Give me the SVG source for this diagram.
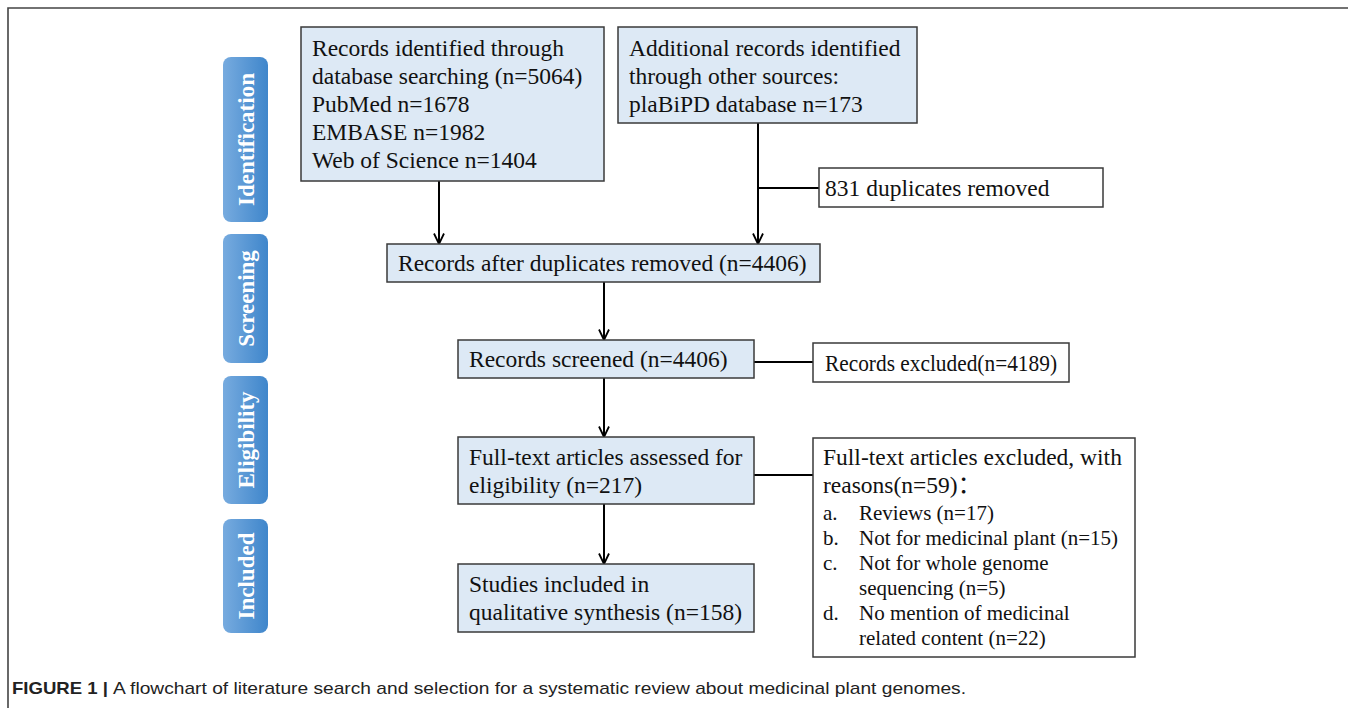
<svg xmlns="http://www.w3.org/2000/svg" width="1355" height="724" viewBox="0 0 1355 724">
<defs>
<linearGradient id="tabGrad" x1="0" y1="0" x2="1" y2="0">
<stop offset="0" stop-color="#77abdf"/>
<stop offset="1" stop-color="#3f86cb"/>
</linearGradient>
<marker id="arr" viewBox="0 0 12 12" refX="11.5" refY="6" markerWidth="12" markerHeight="12" markerUnits="userSpaceOnUse" orient="auto">
<path d="M1,1 L11.5,6 L1,11" fill="none" stroke="#000" stroke-width="1.8"/>
</marker>
</defs>
<style>
.box{fill:#dde9f5;stroke:#3a3a3a;stroke-width:1.5}
.wbox{fill:#fff;stroke:#3a3a3a;stroke-width:1.5}
.t{font-family:"Liberation Serif","Times New Roman","Noto Sans CJK SC",serif;font-size:23.5px;fill:#111}
.s{font-family:"Liberation Serif","Times New Roman","Noto Sans CJK SC",serif;font-size:21px;fill:#111}
.tab{fill:url(#tabGrad)}
.tabt{font-family:"Liberation Serif","Times New Roman",serif;font-size:23px;font-weight:bold;fill:#fff}
.c{stroke:#000;stroke-width:2;fill:none}
.cap{font-family:"Liberation Sans",Arial,sans-serif;font-size:17px;fill:#222}
</style>
<rect width="1355" height="724" fill="#fff"/>
<g id="frame">
<path d="M8,708 L8,8 L1348,8" fill="none" stroke="#444" stroke-width="1.6"/>
</g>
<g id="tab-identification">
<rect class="tab" x="223" y="57" width="45" height="165" rx="8"/>
<text class="tabt" transform="translate(253.5,139.5) rotate(-90)" text-anchor="middle">Identification</text>
</g>
<g id="tab-screening">
<rect class="tab" x="223" y="234" width="45" height="129" rx="8"/>
<text class="tabt" transform="translate(253.5,298.5) rotate(-90)" text-anchor="middle">Screening</text>
</g>
<g id="tab-eligibility">
<rect class="tab" x="223" y="376" width="45" height="128" rx="8"/>
<text class="tabt" transform="translate(253.5,440) rotate(-90)" text-anchor="middle">Eligibility</text>
</g>
<g id="tab-included">
<rect class="tab" x="223" y="519" width="45" height="114" rx="8"/>
<text class="tabt" transform="translate(253.5,576) rotate(-90)" text-anchor="middle">Included</text>
</g>
<g id="connectors">
<line class="c" x1="439" y1="181" x2="439" y2="244" marker-end="url(#arr)"/>
<line class="c" x1="758" y1="123" x2="758" y2="244" marker-end="url(#arr)"/>
<line class="c" x1="758" y1="188" x2="819" y2="188"/>
<line class="c" x1="604" y1="282" x2="604" y2="340" marker-end="url(#arr)"/>
<line class="c" x1="754" y1="362" x2="813" y2="362"/>
<line class="c" x1="604" y1="378" x2="604" y2="437" marker-end="url(#arr)"/>
<line class="c" x1="754" y1="475" x2="813" y2="475"/>
<line class="c" x1="604" y1="504" x2="604" y2="564" marker-end="url(#arr)"/>
</g>
<g id="n-database">
<rect class="box" x="301" y="27" width="303" height="154"/>
<text class="t" x="312" y="56">Records identified through</text>
<text class="t" x="312" y="84">database searching (n=5064)</text>
<text class="t" x="312" y="112">PubMed n=1678</text>
<text class="t" x="312" y="140">EMBASE n=1982</text>
<text class="t" x="312" y="168">Web of Science n=1404</text>
</g>
<g id="n-additional">
<rect class="box" x="618" y="27" width="299" height="96"/>
<text class="t" x="629" y="56">Additional records identified</text>
<text class="t" x="629" y="84">through other sources:</text>
<text class="t" x="629" y="112">plaBiPD database n=173</text>
</g>
<g id="n-dup">
<rect class="wbox" x="819" y="168" width="284" height="39"/>
<text class="t" x="825" y="196">831 duplicates removed</text>
</g>
<g id="n-after">
<rect class="box" x="387" y="244" width="433" height="38"/>
<text class="t" x="398" y="271">Records after duplicates removed (n=4406)</text>
</g>
<g id="n-screened">
<rect class="box" x="458" y="340" width="296" height="38"/>
<text class="t" x="469" y="367">Records screened (n=4406)</text>
</g>
<g id="n-excluded">
<rect class="wbox" x="813" y="343" width="256" height="39"/>
<text class="t" x="825" y="371" textLength="232" lengthAdjust="spacingAndGlyphs">Records excluded(n=4189)</text>
</g>
<g id="n-fulltext">
<rect class="box" x="458" y="437" width="296" height="67"/>
<text class="t" x="469" y="465">Full-text articles assessed for</text>
<text class="t" x="469" y="493">eligibility (n=217)</text>
</g>
<g id="n-reasons">
<rect class="wbox" x="813" y="438" width="322" height="219"/>
<text class="t" x="823" y="465">Full-text articles excluded, with</text>
<text class="t" x="823" y="493">reasons(n=59)：</text>
<text class="s" x="823" y="520">a.</text>
<text class="s" x="859" y="520">Reviews (n=17)</text>
<text class="s" x="823" y="545">b.</text>
<text class="s" x="859" y="545">Not for medicinal plant (n=15)</text>
<text class="s" x="823" y="570">c.</text>
<text class="s" x="859" y="570">Not for whole genome</text>
<text class="s" x="859" y="595">sequencing (n=5)</text>
<text class="s" x="823" y="620">d.</text>
<text class="s" x="859" y="620">No mention of medicinal</text>
<text class="s" x="859" y="645">related content (n=22)</text>
</g>
<g id="n-included">
<rect class="box" x="458" y="564" width="296" height="68"/>
<text class="t" x="469" y="592">Studies included in</text>
<text class="t" x="469" y="620">qualitative synthesis (n=158)</text>
</g>
<g id="caption">
<text class="cap" x="12" y="694" font-weight="bold" textLength="96" lengthAdjust="spacingAndGlyphs">FIGURE 1 |</text>
<text class="cap" x="113" y="694" textLength="853" lengthAdjust="spacingAndGlyphs">A flowchart of literature search and selection for a systematic review about medicinal plant genomes.</text>
</g>
</svg>
